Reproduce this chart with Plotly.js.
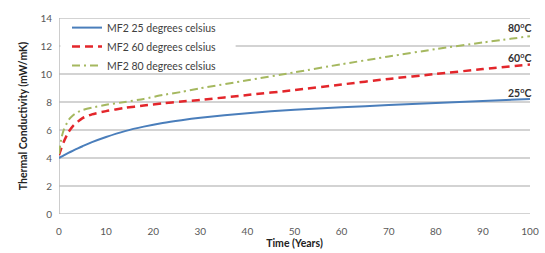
<!DOCTYPE html>
<html><head><meta charset="utf-8">
<script src="https://cdn.plot.ly/plotly-3.0.1.min.js"></script>
<style>html,body{margin:0;padding:0;background:#fff}#c{width:545px;height:253px}</style>
</head><body><div id="c"></div>
<script>
const years  = [0, 0.5, 1, 2, 3, 4, 5, 7, 10, 14, 18, 22, 26, 30, 40, 50, 60, 70, 80, 90, 100];
const mf2_25 = [4.0, 4.09, 4.18, 4.36, 4.53, 4.69, 4.84, 5.13, 5.5, 5.92, 6.24, 6.5, 6.7, 6.87, 7.2, 7.45, 7.62, 7.78, 7.93, 8.08, 8.22];
const mf2_60 = [4.2, 4.7, 5.15, 5.85, 6.3, 6.6, 6.85, 7.12, 7.35, 7.58, 7.75, 7.9, 8.03, 8.15, 8.5, 8.85, 9.25, 9.65, 10.0, 10.35, 10.68];
const mf2_80 = [4.3, 5.4, 6.0, 6.7, 7.05, 7.28, 7.43, 7.6, 7.8, 8.0, 8.22, 8.5, 8.72, 8.98, 9.55, 10.12, 10.7, 11.25, 11.78, 12.25, 12.7];
const seriesNames = ['MF2 25 degrees celsius', 'MF2 60 degrees celsius', 'MF2 80 degrees celsius'];
const endLabels = ['25<sup>o</sup>C', '60<sup>o</sup>C', '80<sup>o</sup>C'];
const endLabelY = [8.7, 11.2, 13.3];
const xTicks = [0, 10, 20, 30, 40, 50, 60, 70, 80, 90, 100];
const yTicks = [0, 2, 4, 6, 8, 10, 12, 14];

const FONT = 'Lato, "Open Sans", sans-serif';
const traces = [
  {x: years, y: mf2_25, name: seriesNames[0], mode: 'lines', line: {color: '#4a7ebb', width: 2, shape: 'spline', smoothing: 0.6}},
  {x: years, y: mf2_60, name: seriesNames[1], mode: 'lines', line: {color: '#e3262b', width: 2.5, dash: '8px,5px', shape: 'spline', smoothing: 0.6}},
  {x: years, y: mf2_80, name: seriesNames[2], mode: 'lines', line: {color: '#a5b85f', width: 2, dash: '8px,4px,2px,4px', shape: 'spline', smoothing: 0.6}}
];
const gridShapes = yTicks.map(v => ({type: 'line', xref: 'paper', yref: 'y', x0: 0, x1: 1, y0: v, y1: v,
  line: {color: '#c4c4c4', width: 1.4}, layer: 'below'}));
const axisLine = {type: 'line', xref: 'x', yref: 'paper', x0: 0, x1: 0, y0: 0, y1: 1, line: {color: '#b8b8b8', width: 1.4}, layer: 'below'};
const legendMask = {type: 'rect', xref: 'x', yref: 'paper', x0: 0.3, x1: 37.5, y0: 0.77, y1: 0.993,
  fillcolor: '#fff', line: {width: 0}, layer: 'below'};
const layout = {
  width: 545, height: 253,
  margin: {l: 58.5, r: 15, t: 18, b: 39},
  paper_bgcolor: '#fff', plot_bgcolor: 'rgba(0,0,0,0)',
  showlegend: true,
  legend: {x: 0.017, y: 1.025, xanchor: 'left', yanchor: 'top', bgcolor: 'rgba(255,255,255,0)', borderwidth: 0,
    font: {family: FONT, size: 10.5, color: '#404040'}, tracegroupgap: 0, itemwidth: 30},
  shapes: gridShapes.concat([axisLine, legendMask]),
  xaxis: {range: [0, 100], tickvals: xTicks, ticktext: xTicks.map(String), showgrid: false, zeroline: false,
    showline: false, ticks: '', ticklabelstandoff: 10, tickfont: {family: FONT, size: 10, color: '#595959'},
    title: {text: 'Time (Years)', font: {family: FONT, size: 10.5, color: '#222', weight: 'bold'}, standoff: 3}},
  yaxis: {range: [0, 14], tickvals: yTicks, ticktext: yTicks.map(String), showgrid: false,
    zeroline: false, showline: false, ticks: '', ticklabelstandoff: 6,
    tickfont: {family: FONT, size: 10, color: '#595959'},
    title: {text: 'Thermal Conductivity (mW/mK)', font: {family: FONT, size: 10.5, color: '#222', weight: 'bold'}, standoff: 10}},
  annotations: endLabels.map((t, i) => ({x: 100, y: endLabelY[i], xref: 'x', yref: 'y', text: t, showarrow: false,
    xanchor: 'right', yanchor: 'middle', xshift: 3, font: {family: FONT, size: 10.5, color: '#333', weight: 'bold'}}))
};
Plotly.newPlot('c', traces, layout, {displayModeBar: false, staticPlot: true});
</script></body></html>
